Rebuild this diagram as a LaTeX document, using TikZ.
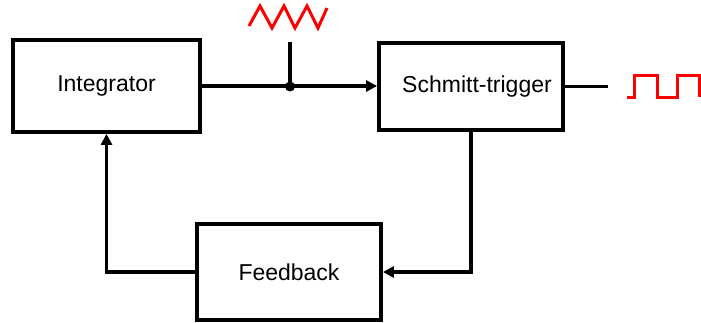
\documentclass[tikz,border=0pt]{standalone}
\usepackage{fontspec}
\setmainfont{Liberation Sans}
\usetikzlibrary{arrows.meta}
\begin{document}
\begin{tikzpicture}[x=1pt,y=-1pt,
  blk/.style={draw=black,line width=3.8pt,minimum width=#1,inner sep=0pt,font=\fontsize{23}{26}\selectfont},
  wire/.style={draw=black,line width=3.8pt},
  arr/.style={wire,-{Triangle[length=11pt,width=11pt]}},
  sig/.style={draw=red,line width=3pt,line join=miter}]
\useasboundingbox (0,0) rectangle (701,322);
\node[blk=187pt,minimum height=92pt] (int) at (106.5,86) {\raisebox{3pt}{Integrator}};
\node[blk=184pt,minimum height=87pt] (sch) at (471,86.5) {\hspace*{12pt}Schmitt-trigger};
\node[blk=184pt,minimum height=96pt] (fb) at (289,272) {Feedback};
\coordinate (j) at (290,86.5);
\coordinate (jt) at (290,42);
\coordinate (out) at (608,86.5);
\draw[arr] (int.east) -- (int.east -| sch.west);
\draw[wire] (jt) -- (j);
\fill (j) circle (5pt);
\draw[wire] (sch.east) -- (out);
\draw[arr] (sch.south) |- (fb.east);
\draw[arr] (fb.west) -| (int.south);
\draw[sig] (249,26) -- (260,6) -- (272,28) -- (284,6) -- (295,28) -- (307,6) -- (318,28) -- (327,8);
\draw[sig] (627,97) -- (634,97) -- (634,75) -- (657,75) -- (657,97) -- (677,97) -- (677,75) -- (699,75) -- (699,97);
\end{tikzpicture}
\end{document}
